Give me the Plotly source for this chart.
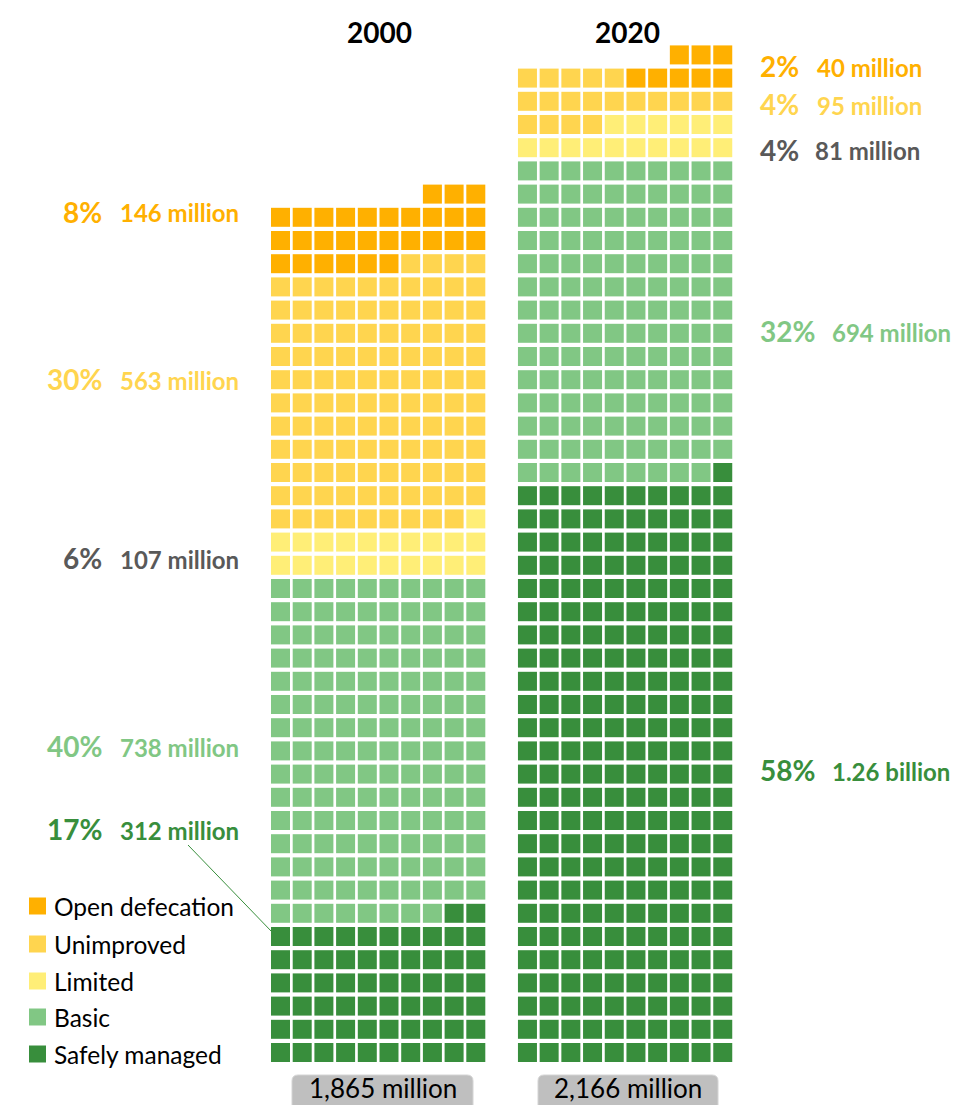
import plotly.graph_objects as go

# ---------------------------------------------------------------------------
# Data: population by sanitation service level (millions)
# ---------------------------------------------------------------------------
CATEGORIES = ["Open defecation", "Unimproved", "Limited", "Basic", "Safely managed"]
COLORS = ["#FFB000", "#FFD54F", "#FFEE77", "#81C784", "#388E3C"]
LABEL_COLORS = ["#FFB000", "#FFD54F", "#595959", "#81C784", "#388E3C"]

YEARS = ["2000", "2020"]
POP_2000 = [146, 563, 107, 738, 312]
POP_2020 = [40, 95, 81, 694, 1256]
SHARE_2000 = [8, 30, 6, 40, 17]
SHARE_2020 = [2, 4, 4, 32, 58]
VALUE_TEXT_2000 = ["146 million", "563 million", "107 million", "738 million", "312 million"]
VALUE_TEXT_2020 = ["40 million", "95 million", "81 million", "694 million", "1.26 billion"]
TOTALS = [1865, 2166]

MILLION_PER_SQUARE = 5
SQUARES_PER_ROW = 10

# ---------------------------------------------------------------------------
# Page geometry (pixels)
# ---------------------------------------------------------------------------
W, H = 955, 1105
COL_PITCH = 21.7      # horizontal distance between square centres
ROW_PITCH = 23.2      # vertical distance between square centres
SQUARE = 19           # square side
X0_PX = 280.5         # centre of first column of the 2000 block
Y0_PX = 1052.5        # centre of the bottom row
BLOCK_OFFSET = 11.38  # 2020 block offset, in columns
FONT = "Lato"


def px_x(px):
    return px / W


def px_y(py):
    return 1 - py / H


def waffle(pop, offset, mirrored_rows=()):
    """Stack squares bottom-up, each row filled from the right."""
    counts = [round(p / MILLION_PER_SQUARE) for p in pop]
    xs = [[] for _ in CATEGORIES]
    ys = [[] for _ in CATEGORIES]
    idx = 0
    for cat in reversed(range(len(CATEGORIES))):
        for _ in range(counts[cat]):
            row, pos = divmod(idx, SQUARES_PER_ROW)
            col = pos if row in mirrored_rows else SQUARES_PER_ROW - 1 - pos
            xs[cat].append(offset + col)
            ys[cat].append(row)
            idx += 1
    return xs, ys


fig = go.Figure()

blocks = [
    waffle(POP_2000, 0),
    waffle(POP_2020, BLOCK_OFFSET, mirrored_rows=(42,)),
]
for xs, ys in blocks:
    for cat, name in enumerate(CATEGORIES):
        fig.add_trace(go.Scatter(
            x=xs[cat], y=ys[cat], mode="markers", name=name, showlegend=False,
            hoverinfo="name",
            marker=dict(symbol="square", size=SQUARE, color=COLORS[cat],
                        line=dict(width=0)),
        ))

annotations = []
shapes = []

# Year headings
for year, cx in zip(YEARS, [379, 627]):
    annotations.append(dict(
        x=px_x(cx), y=px_y(32), xref="paper", yref="paper", text=year,
        showarrow=False, xanchor="center", yanchor="middle",
        font=dict(family=FONT, size=28, color="#000000", weight="bold"),
    ))

# 2000 labels (left of block)
LEFT_Y = [213, 380, 559, 747, 830]
for i in range(len(CATEGORIES)):
    annotations.append(dict(
        x=px_x(104), y=px_y(LEFT_Y[i] - 1), xref="paper", yref="paper",
        text=f"{SHARE_2000[i]}%", showarrow=False, xanchor="right", yanchor="middle",
        font=dict(family=FONT, size=28, color=LABEL_COLORS[i], weight="bold"),
    ))
    annotations.append(dict(
        x=px_x(118), y=px_y(LEFT_Y[i]), xref="paper", yref="paper",
        text=VALUE_TEXT_2000[i], showarrow=False, xanchor="left", yanchor="middle",
        font=dict(family=FONT, size=24, color=LABEL_COLORS[i], weight="bold"),
    ))

# 2020 labels (right of block)
RIGHT_Y = [67, 105, 151, 332, 771]
RIGHT_VALUE_X = [815, 815, 813, 830, 830]
for i in range(len(CATEGORIES)):
    annotations.append(dict(
        x=px_x(758), y=px_y(RIGHT_Y[i] - 1), xref="paper", yref="paper",
        text=f"{SHARE_2020[i]}%", showarrow=False, xanchor="left", yanchor="middle",
        font=dict(family=FONT, size=28, color=LABEL_COLORS[i], weight="bold"),
    ))
    annotations.append(dict(
        x=px_x(RIGHT_VALUE_X[i]), y=px_y(RIGHT_Y[i]), xref="paper", yref="paper",
        text=VALUE_TEXT_2020[i], showarrow=False, xanchor="left", yanchor="middle",
        font=dict(family=FONT, size=24, color=LABEL_COLORS[i], weight="bold"),
    ))

# Leader line from the 312 million label to the safely managed block
shapes.append(dict(
    type="line", xref="paper", yref="paper",
    x0=px_x(188), y0=px_y(845), x1=px_x(272), y1=px_y(932),
    line=dict(color="#388E3C", width=1),
))

# Legend
LEGEND_Y = [906, 944, 981, 1017, 1054]
for i, name in enumerate(CATEGORIES):
    cy = LEGEND_Y[i]
    shapes.append(dict(
        type="rect", xref="paper", yref="paper",
        x0=px_x(29), x1=px_x(46), y0=px_y(cy - 8.5), y1=px_y(cy + 8.5),
        fillcolor=COLORS[i], line=dict(width=0),
    ))
    annotations.append(dict(
        x=px_x(52), y=px_y(cy), xref="paper", yref="paper", text=name,
        showarrow=False, xanchor="left", yanchor="middle",
        font=dict(family=FONT, size=24.5, color="#000000"),
    ))


# Totals in rounded grey boxes
def rounded_box(x0, x1, y0, y1, r):
    return (f"M {px_x(x0 + r)} {px_y(y0)} L {px_x(x1 - r)} {px_y(y0)} "
            f"Q {px_x(x1)} {px_y(y0)} {px_x(x1)} {px_y(y0 + r)} "
            f"L {px_x(x1)} {px_y(y1 - r)} Q {px_x(x1)} {px_y(y1)} {px_x(x1 - r)} {px_y(y1)} "
            f"L {px_x(x0 + r)} {px_y(y1)} Q {px_x(x0)} {px_y(y1)} {px_x(x0)} {px_y(y1 - r)} "
            f"L {px_x(x0)} {px_y(y0 + r)} Q {px_x(x0)} {px_y(y0)} {px_x(x0 + r)} {px_y(y0)} Z")


for total, (bx0, bx1) in zip(TOTALS, [(292, 473), (538, 718)]):
    shapes.append(dict(
        type="path", xref="paper", yref="paper",
        path=rounded_box(bx0, bx1, 1075, 1120, 6),
        fillcolor="#BFBFBF", line=dict(color="#D4D4D4", width=1),
    ))
    annotations.append(dict(
        x=px_x((bx0 + bx1) / 2), y=px_y(1088), xref="paper", yref="paper",
        text=f"{total:,} million", showarrow=False, xanchor="center", yanchor="middle",
        font=dict(family=FONT, size=26, color="#000000"),
    ))

fig.update_layout(
    width=W, height=H,
    margin=dict(l=0, r=0, t=0, b=0),
    paper_bgcolor="white", plot_bgcolor="white",
    showlegend=False,
    xaxis=dict(range=[-X0_PX / COL_PITCH, (W - X0_PX) / COL_PITCH],
               visible=False, fixedrange=True),
    yaxis=dict(range=[-(H - Y0_PX) / ROW_PITCH, Y0_PX / ROW_PITCH],
               visible=False, fixedrange=True),
    annotations=annotations,
    shapes=shapes,
)

fig.write_html("out.html")
